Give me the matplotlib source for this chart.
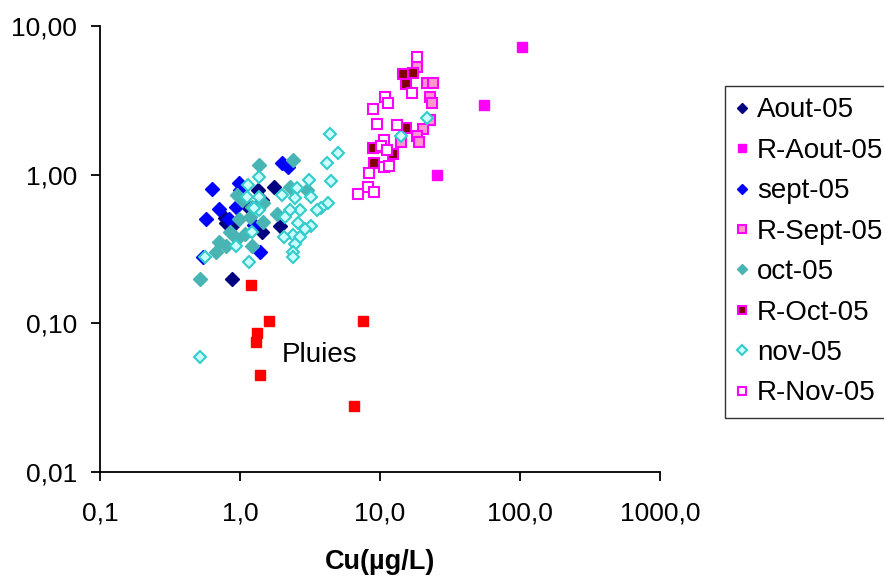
import matplotlib
matplotlib.use("Agg")
import matplotlib.pyplot as plt

plt.rcParams['font.family'] = ['Liberation Sans', 'DejaVu Sans']

# ---- data (Cu µg/L, y value) ----
aout_x = [1.34, 1.76, 1.43, 0.78, 0.88, 1.93, 1.43, 0.88, 1.13, 0.80]
aout_y = [0.79, 0.82, 0.68, 0.51, 0.45, 0.45, 0.41, 0.20, 0.62, 0.47]

raout_x = [103, 55.0, 25.6]
raout_y = [7.19, 2.94, 1.00]

sept_x = [1.99, 2.21, 0.63, 0.98, 1.00, 0.71, 0.57, 0.93, 0.83, 1.39, 0.54, 1.25]
sept_y = [1.20, 1.13, 0.80, 0.88, 0.79, 0.59, 0.50, 0.61, 0.50, 0.30, 0.28, 0.46]

rsept_x = [18.3, 21.5, 24.0, 22.7, 23.6, 22.7, 20.4, 18.3, 19.0, 14.1, 10.2]
rsept_y = [5.33, 4.12, 4.12, 3.35, 3.02, 2.33, 2.02, 1.82, 1.67, 1.67, 1.54]

oct_x = [2.38, 1.36, 2.27, 2.99, 0.95, 1.03, 1.22, 1.47, 1.83, 0.98,
         1.18, 1.47, 0.85, 1.09, 0.95, 0.71, 0.79, 0.67, 1.22, 0.52]
oct_y = [1.26, 1.16, 0.83, 0.79, 0.73, 0.68, 0.61, 0.64, 0.54, 0.50,
         0.52, 0.48, 0.41, 0.40, 0.37, 0.35, 0.33, 0.30, 0.33, 0.20]

roct_x = [14.6, 17.3, 15.3, 15.3, 8.96, 12.3, 9.11]
roct_y = [4.73, 4.81, 4.06, 2.05, 1.51, 1.38, 1.20]

nov_x = [4.37, 5.01, 4.21, 4.49, 3.12, 1.36, 1.15, 2.54, 2.47, 3.24,
         1.99, 1.36, 1.13, 4.26, 3.82, 3.52, 2.68, 2.27, 1.37, 1.25,
         2.10, 3.20, 2.90, 2.61, 2.40, 2.07, 2.68, 2.47, 2.40, 2.38,
         1.22, 0.93, 0.56, 1.16, 0.52, 21.8, 14.1]
nov_y = [1.88, 1.39, 1.19, 0.91, 0.92, 0.96, 0.85, 0.81, 0.70, 0.71,
         0.73, 0.71, 0.71, 0.64, 0.60, 0.58, 0.58, 0.58, 0.58, 0.60,
         0.52, 0.45, 0.43, 0.47, 0.39, 0.38, 0.38, 0.34, 0.30, 0.28,
         0.41, 0.33, 0.28, 0.26, 0.059, 2.42, 1.82]

rnov_x = [18.3, 16.8, 10.8, 11.5, 8.96, 9.48, 13.3, 10.7, 10.2, 11.3,
          10.7, 11.6, 8.40, 8.18, 9.11, 7.01]
rnov_y = [6.22, 3.53, 3.32, 3.02, 2.75, 2.19, 2.16, 1.71, 1.56, 1.47,
          1.13, 1.15, 1.03, 0.83, 0.77, 0.74]

pluie_x = [1.20, 1.62, 1.32, 1.30, 7.54, 1.38, 6.57]
pluie_y = [0.18, 0.104, 0.086, 0.075, 0.104, 0.045, 0.028]

x_ticks = [0.1, 1, 10, 100, 1000]
x_tick_labels = ["0,1", "1,0", "10,0", "100,0", "1000,0"]
y_ticks = [0.01, 0.1, 1, 10]
y_tick_labels = ["0,01", "0,10", "1,00", "10,00"]

fig = plt.figure(figsize=(8.84, 5.76), dpi=100)
ax = fig.add_axes([100/884, 1-472/576, (660-100)/884, (472-26)/576])
ax.set_xscale('log')
ax.set_yscale('log')

ds, ss = 7.4, 7.8
ax.plot(aout_x, aout_y, 'D', ms=ds, mfc='#000080', mec='#000080', label='Aout-05', zorder=3)
ax.plot(raout_x, raout_y, 's', ms=ss, mfc='#FF00FF', mec='#FF00FF', label='R-Aout-05', zorder=3)
ax.plot(sept_x, sept_y, 'D', ms=ds, mfc='#0000FF', mec='#0000FF', label='sept-05', zorder=3)
ax.plot(rsept_x, rsept_y, 's', ms=ss, mfc='#FF99CC', mec='#FF00FF', mew=1.5, label='R-Sept-05', zorder=3)
ax.plot(oct_x, oct_y, 'D', ms=ds, mfc='#48B4B4', mec='#48B4B4', label='oct-05', zorder=3)
ax.plot(roct_x, roct_y, 's', ms=ss, mfc='#800000', mec='#FF00FF', mew=1.5, label='R-Oct-05', zorder=3)
ax.plot(nov_x, nov_y, 'D', ms=ds - 0.8, mfc='#CCFFFF', mec='#33CCCC', mew=1.5, label='nov-05', zorder=3)
ax.plot(rnov_x, rnov_y, 's', ms=ss, mfc='white', mec='#FF00FF', mew=1.5, label='R-Nov-05', zorder=3)
ax.plot(pluie_x, pluie_y, 's', ms=ss, mfc='#FF0000', mec='#FF0000', zorder=3)

ax.text(2.0, 0.061, 'Pluies', fontsize=20, ha='left', va='center')

ax.set_xlim(0.1, 1000)
ax.set_ylim(0.01, 10)
ax.set_xticks(x_ticks)
ax.set_xticklabels(x_tick_labels)
ax.set_yticks(y_ticks)
ax.set_yticklabels(y_tick_labels)
ax.minorticks_off()
ax.tick_params(axis='both', direction='out', length=6.5, width=1.3, labelsize=19, colors='black')
ax.tick_params(axis='x', pad=15)
ax.tick_params(axis='y', pad=10)
for side in ['top', 'right']:
    ax.spines[side].set_visible(False)
for side in ['left', 'bottom']:
    ax.spines[side].set_linewidth(1.3)
    ax.spines[side].set_color('black')

ax.set_xlabel('Cu(µg/L)', fontsize=19.5, fontweight='bold', labelpad=17)

leg = fig.legend(loc='upper left', bbox_to_anchor=(725/884, 1-86/576),
                 fontsize=20, frameon=True, fancybox=False, edgecolor='black',
                 markerscale=0.75, handlelength=0.4, handletextpad=0.34,
                 labelspacing=0.52, borderpad=0.41, borderaxespad=0)
leg.get_frame().set_linewidth(1)

fig.savefig('out.png', dpi=100)
